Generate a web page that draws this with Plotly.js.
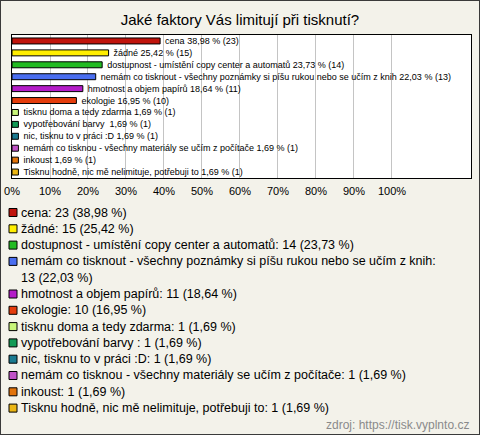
<!DOCTYPE html>
<html>
<head>
<meta charset="utf-8">
<script src="https://cdn.plot.ly/plotly-3.0.1.min.js"></script>
<style>
html,body{margin:0;padding:0;background:#f3f2ea;}
#chart{width:478px;height:433px;border:1px solid #3a3a3a;}
</style>
</head>
<body>
<div id="chart"></div>
<script>
// ---- data ----
var categories = [
  "cena",
  "žádné",
  "dostupnost - umístění copy center a automatů",
  "nemám co tisknout - všechny poznámky si píšu rukou nebo se učím z knih",
  "hmotnost a objem papírů",
  "ekologie",
  "tisknu doma a tedy zdarma",
  "vypotřebování barvy ",
  "nic, tisknu to v práci :D",
  "nemám co tisknou - všechny materiály se učím z počítače",
  "inkoust",
  "Tisknu hodně, nic mě nelimituje, potřebuji to"
];
var counts = [23, 15, 14, 13, 11, 10, 1, 1, 1, 1, 1, 1];
var percents = [38.98, 25.42, 23.73, 22.03, 18.64, 16.95, 1.69, 1.69, 1.69, 1.69, 1.69, 1.69];
var colors = ["#c0140c", "#ffee00", "#22bb22", "#4a6ef0", "#b41cc8", "#e43c0c",
              "#c8f57a", "#129a55", "#1a7a90", "#c053c6", "#e2740c", "#ebb614"];
var tickValues = [0, 10, 20, 30, 40, 50, 60, 70, 80, 90, 100];
var tickLabels = ["0%", "10%", "20%", "30%", "40%", "50%", "60%", "70%", "80%", "90%", "100%"];
var titleText = "Jaké faktory Vás limitují při tisknutí?";
var sourceText = "zdroj: https://tisk.vyplnto.cz";

// ---- helpers ----
function fmt(p){ return p.toFixed(2).replace('.', ','); }
var W = 478, H = 433;
var M = {l: 11, r: 8, t: 34, b: 256};
var PW = W - M.l - M.r, PH = H - M.t - M.b;
// image pixel -> paper coordinates (div has 1px border)
function px2x(px){ return (px - 1 - M.l) / PW; }
function py2y(py){ return (H - M.b - (py - 1)) / PH; }

var barText = categories.map(function(c, i){
  return "\u00a0\u00a0" + c + " " + fmt(percents[i]) + " % (" + counts[i] + ")";
});

var trace = {
  type: 'bar',
  orientation: 'h',
  y: categories,
  x: percents,
  width: 0.5,
  marker: {color: colors, line: {color: '#000', width: 1}},
  text: barText,
  textposition: 'outside',
  constraintext: 'none',
  textfont: {family: 'Liberation Sans, Arial, sans-serif', size: 9, color: '#000'},
  cliponaxis: false,
  hoverinfo: 'none'
};

// ---- legend below (annotations + squares) ----
var annotations = [];
var shapes = [];
var row = 0;
var startY = 212.5, step = 16.3;
categories.forEach(function(c, i){
  var label = c + ": " + counts[i] + " (" + fmt(percents[i]) + " %)";
  var lines = [label];
  if (label.length > 75) {
    var cut = label.lastIndexOf(' ', 72);
    lines = [label.slice(0, cut), label.slice(cut + 1)];
  }
  var cy = startY + row * step;
  shapes.push({
    type: 'rect', xref: 'paper', yref: 'paper',
    x0: px2x(9), x1: px2x(17), y0: py2y(cy - 4), y1: py2y(cy + 4),
    fillcolor: colors[i], line: {color: '#000', width: 1}
  });
  lines.forEach(function(t){
    annotations.push({
      xref: 'paper', yref: 'paper', x: px2x(19), y: py2y(startY + row * step),
      xanchor: 'left', yanchor: 'middle', showarrow: false, align: 'left',
      text: t, font: {family: 'Liberation Sans, Arial, sans-serif', size: 12.5, color: '#000'}
    });
    row++;
  });
});
annotations.push({
  xref: 'paper', yref: 'paper', x: px2x(471), y: py2y(425),
  xanchor: 'right', yanchor: 'middle', showarrow: false,
  text: sourceText, font: {family: 'Liberation Sans, Arial, sans-serif', size: 12, color: '#8a8a8a'}
});

var layout = {
  width: W, height: H,
  margin: M,
  paper_bgcolor: '#f3f2ea',
  plot_bgcolor: '#ffffff',
  showlegend: false,
  title: {
    text: titleText, x: 0.5, xanchor: 'center', xref: 'container',
    y: 1 - 19 / H, yanchor: 'middle', yref: 'container',
    font: {family: 'Liberation Sans, Arial, sans-serif', size: 15, color: '#000'}
  },
  xaxis: {
    range: [0, 120.8], fixedrange: true,
    tickvals: tickValues, ticktext: tickLabels,
    showgrid: true, gridcolor: '#c4c4c4', gridwidth: 1,
    zeroline: false,
    showline: true, linecolor: '#000', linewidth: 1, mirror: true,
    ticks: 'outside', ticklen: 3, tickcolor: 'rgba(0,0,0,0)',
    tickfont: {family: 'Liberation Sans, Arial, sans-serif', size: 11, color: '#000'}
  },
  yaxis: {
    type: 'category', autorange: 'reversed', fixedrange: true,
    showticklabels: false, showgrid: false, zeroline: false,
    showline: true, linecolor: '#000', linewidth: 1, mirror: true,
    ticks: ''
  },
  annotations: annotations,
  shapes: shapes
};

Plotly.newPlot('chart', [trace], layout, {displayModeBar: false, staticPlot: true});
</script>
</body>
</html>
